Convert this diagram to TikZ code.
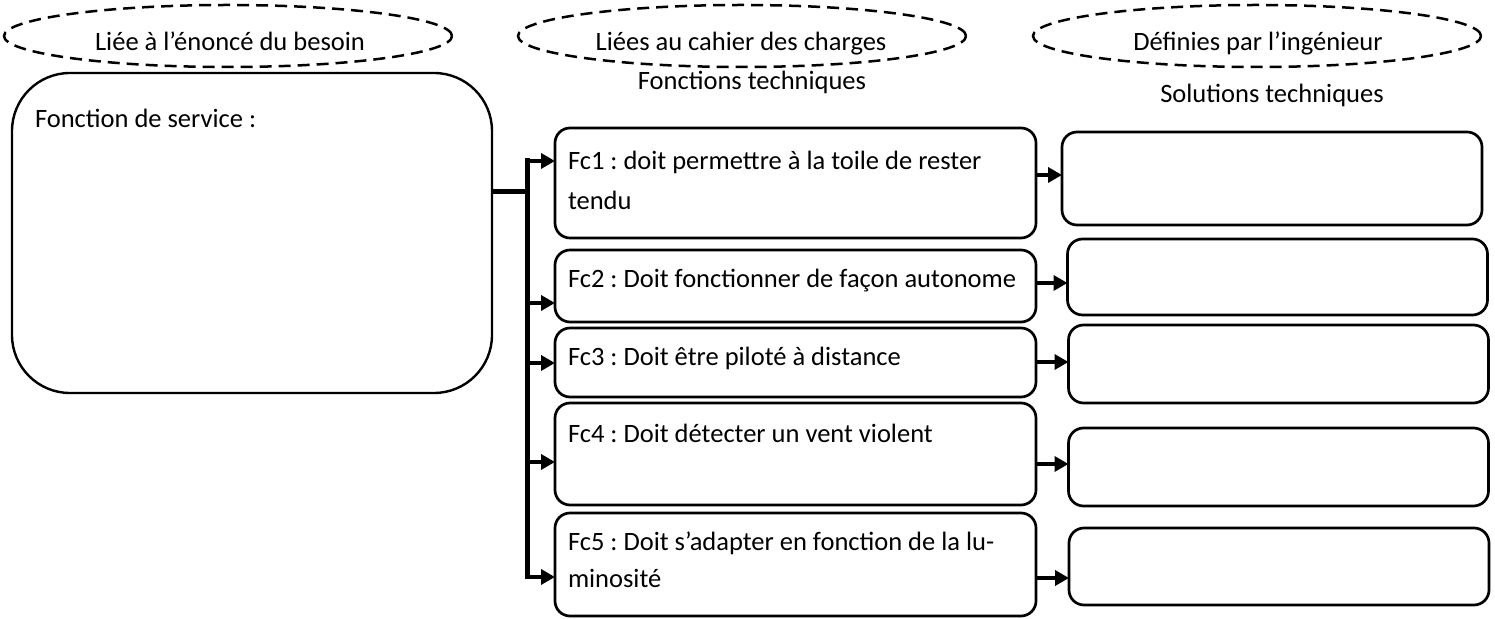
\documentclass[tikz,border=0pt]{standalone}
\usepackage{fontspec}
\setmainfont{Carlito}
\frenchspacing
\usetikzlibrary{shapes.geometric,arrows.meta}
\begin{document}
\begin{tikzpicture}[x=0.5pt,y=-0.5pt,
  every node/.style={inner sep=0pt,outer sep=0pt},
  txt/.style={font=\fontsize{13.25}{20}\selectfont},
  oval/.style={ellipse,draw,line width=1.25pt,dash pattern=on 6pt off 3.5pt,minimum width=224pt,minimum height=31pt},
  bigbox/.style={draw,line width=1.2pt,rounded corners=29pt,minimum width=240pt,minimum height=160pt},
  fcbox/.style={draw,line width=1.35pt,rounded corners=7.5pt,minimum width=240.5pt},
  solbox/.style={draw,line width=1.35pt,rounded corners=7.5pt,minimum width=210pt},
  wire/.style={line width=2.5pt},
  arr/.style={line width=2.3pt,-{Triangle[length=7pt,width=7.5pt]}},
]
\useasboundingbox (0,0) rectangle (1495,619);
% header ovals
\node[oval] (e1) at (228,36) {};
\node[oval] (e2) at (742,36) {};
\node[oval] (e3) at (1257,36) {};
\node[txt,anchor=base] (te1) at (230,51) {Liée à l’énoncé du besoin};
\node[txt,anchor=base] (te2) at (741,51) {Liées au cahier des charges};
\node[txt,anchor=base] (te3) at (1258,51) {Définies par l’ingénieur};
\node[txt,anchor=base] (ft) at (752,90) {Fonctions techniques};
\node[txt,anchor=base] (st) at (1272,103) {Solutions techniques};
% service function box
\node[bigbox] (fs) at (252,233) {};
\node[txt,anchor=base west] (tfs) at (35,128) {Fonction de service :};
% technical function boxes
\node[fcbox,minimum height=55pt] (fc1) at (795.5,183) {};
\node[fcbox,minimum height=36pt] (fc2) at (795.5,286) {};
\node[fcbox,minimum height=34.5pt] (fc3) at (795.5,362.5) {};
\node[fcbox,minimum height=51pt] (fc4) at (795.5,454) {};
\node[fcbox,minimum height=51.5pt] (fc5) at (795.5,564.5) {};
\node[txt,anchor=base west] (tfc1a) at (568,170) {Fc1 : doit permettre à la toile de rester};
\node[txt,anchor=base west] (tfc1b) at (568,210) {tendu};
\node[txt,anchor=base west] (tfc2) at (568,288) {Fc2 : Doit fonctionner de façon autonome};
\node[txt,anchor=base west] (tfc3) at (568,366) {Fc3 : Doit être piloté à distance};
\node[txt,anchor=base west] (tfc4) at (568,443) {Fc4 : Doit détecter un vent violent};
\node[txt,anchor=base west] (tfc5a) at (568,551) {Fc5 : Doit s’adapter en fonction de la lu-};
\node[txt,anchor=base west] (tfc5b) at (568,588) {minosité};
% solution boxes
\node[solbox,minimum height=46.5pt] (s1) at (1272,178.5) {};
\node[solbox,minimum height=38pt] (s2) at (1277.5,277) {};
\node[solbox,minimum height=39pt] (s3) at (1278.5,364) {};
\node[solbox,minimum height=39pt] (s4) at (1278.5,467) {};
\node[solbox,minimum height=38.5pt] (s5) at (1279,566.5) {};
% trunk
\coordinate (j) at (527,192);
\coordinate (t1) at (527,161);
\coordinate (t2) at (527,303);
\coordinate (t3) at (527,363);
\coordinate (t4) at (527,462);
\coordinate (t5) at (527,577);
\draw[wire] (fs.east |- j) -- (j);
\draw[wire,line cap=rect] (t1) -- (t5);
\draw[arr] (t1) -- (t1 -| fc1.west);
\draw[arr] (t2) -- (t2 -| fc2.west);
\draw[arr] (t3) -- (t3 -| fc3.west);
\draw[arr] (t4) -- (t4 -| fc4.west);
\draw[arr] (t5) -- (t5 -| fc5.west);
% right arrows
\coordinate (r1) at (1036,175);
\coordinate (r2) at (1036,283);
\coordinate (r3) at (1036,362);
\coordinate (r4) at (1036,464);
\coordinate (r5) at (1036,578);
\draw[arr] (fc1.east |- r1) -- (r1 -| s1.west);
\draw[arr] (fc2.east |- r2) -- (r2 -| s2.west);
\draw[arr] (fc3.east |- r3) -- (r3 -| s3.west);
\draw[arr] (fc4.east |- r4) -- (r4 -| s4.west);
\draw[arr] (fc5.east |- r5) -- (r5 -| s5.west);
\end{tikzpicture}
\end{document}
